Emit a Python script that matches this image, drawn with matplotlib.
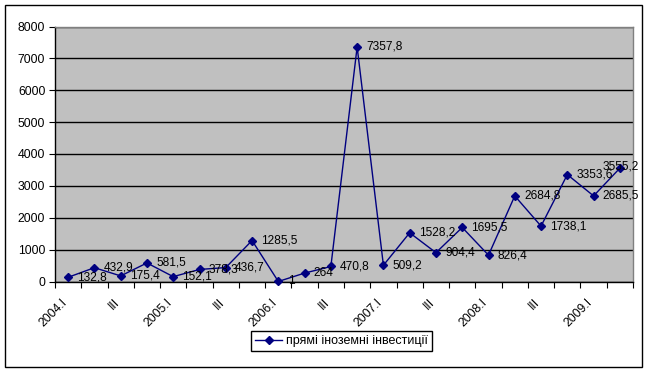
import matplotlib
matplotlib.use("Agg")
import matplotlib.pyplot as plt
from matplotlib.patches import Rectangle
from matplotlib.transforms import ScaledTranslation
import numpy as np

plt.rcParams['font.family'] = ['Liberation Sans', 'DejaVu Sans']

quarters = ["2004.I", "II", "III", "IV", "2005.I", "II", "III", "IV",
            "2006.I", "II", "III", "IV", "2007.I", "II", "III", "IV",
            "2008.I", "II", "III", "IV", "2009.I", "II"]
values = [132.8, 432.9, 175.4, 581.5, 152.1, 378.3, 436.7, 1285.5,
          1, 264, 470.8, 7357.8, 509.2, 1528.2, 904.4, 1695.5,
          826.4, 2684.8, 1738.1, 3353.6, 2685.5, 3555.2]
series_name = "прямі іноземні інвестиції"
yticks = [0, 1000, 2000, 3000, 4000, 5000, 6000, 7000, 8000]

W, H = 648, 372
fig = plt.figure(figsize=(W / 100, H / 100), dpi=100)
ax = fig.add_axes([55 / W, 1 - 281.5 / H, (633 - 55) / W, (281.5 - 26.5) / H])
ax.set_facecolor('#C0C0C0')

x = np.arange(len(values))
line, = ax.plot(x, values, color='#000080', lw=1, marker='D', markersize=4.5,
                label=series_name, zorder=3, clip_on=False)

for i, (xi, v) in enumerate(zip(x, values)):
    lab = f"{v:g}".replace('.', ',')
    off = (6.7, 0)
    if i == len(values) - 1:
        off = (-12.5, 1)
    ax.annotate(lab, (xi, v), xytext=off, textcoords='offset points',
                ha='left', va='center', fontsize=8.6, color='black', zorder=4)

ax.set_xlim(-0.5, len(values) - 0.5)
ax.set_ylim(0, 8000)
ax.set_yticks(yticks)
ax.set_yticklabels([str(t) for t in yticks], fontsize=8.8)
ax.yaxis.grid(True, color='black', lw=1)
ax.set_axisbelow(True)

ax.set_xticks(np.arange(-0.5, len(values), 1))
ax.set_xticklabels([])
ax.set_xticks(x[::2], minor=True)
ax.set_xticklabels(quarters[::2], minor=True, rotation=45, ha='right', va='center',
                   rotation_mode='anchor', fontsize=8.8)
ax.tick_params(axis='x', which='major', direction='out', length=4, color='black')
ax.tick_params(axis='x', which='minor', length=0, pad=14)
ax.tick_params(axis='y', direction='out', length=4, color='black', pad=3)
shift = ScaledTranslation(-2.7 / 100, 0, fig.dpi_scale_trans)
for lbl in ax.get_xticklabels(minor=True):
    lbl.set_transform(lbl.get_transform() + shift)

for s in ['top', 'right']:
    ax.spines[s].set_color('#808080')
    ax.spines[s].set_linewidth(1)
for s in ['left', 'bottom']:
    ax.spines[s].set_color('black')
    ax.spines[s].set_linewidth(1)

leg = fig.legend(handles=[line], loc='center', bbox_to_anchor=(341.5 / W, 1 - 341 / H),
                 fontsize=9, frameon=True, fancybox=False, edgecolor='black',
                 framealpha=1, handlelength=2.2, borderpad=0.3, handletextpad=0.3,
                 borderaxespad=0)
leg.get_frame().set_linewidth(1)

fig.patches.append(Rectangle((5 / W, 5 / H), (642 - 5) / W, (367 - 5) / H,
                             transform=fig.transFigure, fill=False,
                             edgecolor='black', lw=1))

fig.savefig('out.png', dpi=100)
